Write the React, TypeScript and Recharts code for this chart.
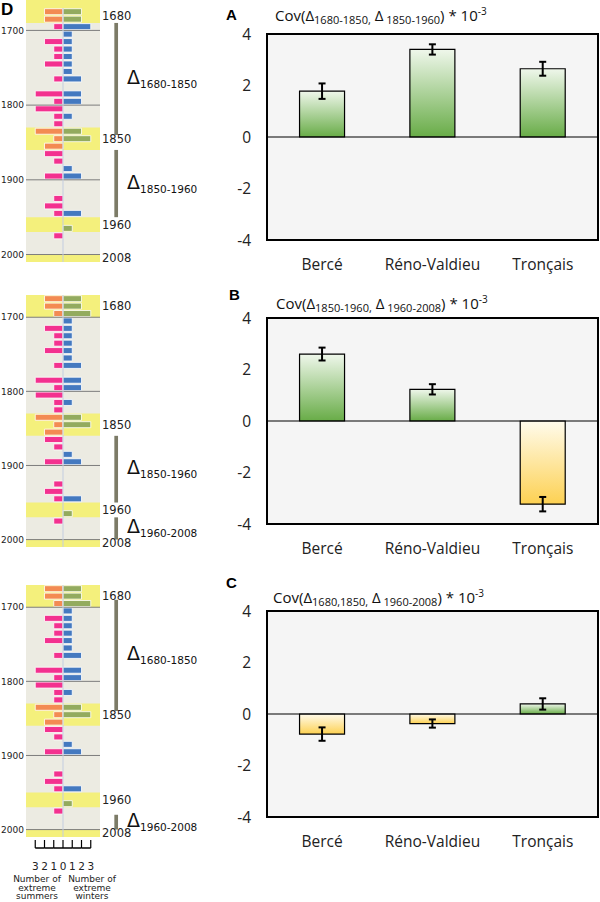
import React from "react";
import {
  BarChart,
  Bar,
  XAxis,
  YAxis,
  Cell,
  CartesianGrid,
  ReferenceArea,
  ReferenceLine,
  ErrorBar,
} from "recharts";

// ---- panel D: extreme summers / winters per decade ----
const decades = [
  "1670", "1680", "1690", "1700", "1710", "1720", "1730", "1740", "1750", "1760",
  "1770", "1780", "1790", "1800", "1810", "1820", "1830", "1840", "1850", "1860",
  "1870", "1880", "1890", "1900", "1910", "1920", "1930", "1940", "1950", "1960",
  "1970", "1980", "1990", "2000",
];
const extremeSummers = [
  2, 2, 1, 0, 2, 1, 1, 2, 0, 1, 0, 3, 1, 3, 1, 1, 3, 1, 2, 2, 1, 0, 2, 0, 0, 1, 2, 1, 0, 0, 1, 0, 0, 0,
];
const extremeWinters = [
  2, 2, 3, 1, 1, 1, 1, 1, 1, 2, 0, 2, 2, 0, 1, 0, 2, 3, 0, 0, 0, 1, 2, 0, 0, 0, 0, 2, 0, 1, 0, 0, 0, 0,
];
const centuryLines = ["1700", "1800", "1900", "2000"];
const scaleTicks = [-3, -2, -1, 0, 1, 2, 3];

type Band = { from: string; to: string; label: string };
type Delta = { from: string; to: string; sub: string };

const bandsD1: Band[] = [
  { from: "1670", to: "1680", label: "1680" },
  { from: "1830", to: "1850", label: "1850" },
  { from: "1950", to: "1960", label: "1960" },
  { from: "2000", to: "2000", label: "2008" },
];
const bandsD23: Band[] = [
  { from: "1670", to: "1690", label: "1680" },
  { from: "1830", to: "1850", label: "1850" },
  { from: "1950", to: "1960", label: "1960" },
  { from: "2000", to: "2000", label: "2008" },
];
const deltasD1: Delta[] = [
  { from: "1690", to: "1830", sub: "1680-1850" },
  { from: "1860", to: "1940", sub: "1850-1960" },
];
const deltasD2: Delta[] = [
  { from: "1860", to: "1940", sub: "1850-1960" },
  { from: "1970", to: "1990", sub: "1960-2008" },
];
const deltasD3: Delta[] = [
  { from: "1690", to: "1830", sub: "1680-1850" },
  { from: "1980", to: "1990", sub: "1960-2008" },
];

// ---- panels A, B, C: covariances ----
const sites = ["Bercé", "Réno-Valdieu", "Tronçais"];
const covA = [1.78, 3.4, 2.65];
const errA = [0.3, 0.2, 0.27];
const covB = [2.6, 1.23, -3.23];
const errB = [0.25, 0.2, 0.28];
const covC = [-0.78, -0.37, 0.39];
const errC = [0.26, 0.16, 0.22];
const covTicks = [-4, -2, 0, 2, 4];

const PINK = "#f3318f";
const ORANGE = "#f38b52";
const BLUE = "#4479c0";
const GREEN = "#93ab5e";
const YELLOW = "#f4f07c";
const D_UNIT = 74 / 8;
const dFont = "DejaVu Sans, sans-serif";
const cFont = "'Open Sans', sans-serif";

const inBand = (d: string, bands: Band[]) =>
  bands.some((b) => +d >= +b.from && +d <= +b.to);

function DeltaLabel(props: any) {
  const { viewBox, sub } = props;
  if (!viewBox) return null;
  const x = viewBox.x + viewBox.width + 9;
  const y = viewBox.y + viewBox.height / 2 + 5;
  return (
    <text x={x} y={y} fill="#111" fontFamily={dFont}>
      <tspan fontSize={19}>Δ</tspan>
      <tspan fontSize={10.5} dy={4}>
        {sub}
      </tspan>
    </text>
  );
}

function ScaleTick(props: any) {
  const { x, y, payload } = props;
  const axisY = y + 11;
  return (
    <g>
      <line x1={x} x2={x} y1={axisY - 8} y2={axisY} stroke="#000" strokeWidth={1.2} />
      {payload.value > -3 && (
        <line x1={x - D_UNIT} x2={x} y1={axisY} y2={axisY} stroke="#000" strokeWidth={1.5} />
      )}
      <text x={x} y={axisY + 22} textAnchor="middle" fontSize={10.5} fill="#222" fontFamily={dFont}>
        {Math.abs(payload.value)}
      </text>
    </g>
  );
}

function DPanel({
  height,
  bands,
  deltas,
  scale,
}: {
  height: number;
  bands: Band[];
  deltas: Delta[];
  scale?: boolean;
}) {
  const rows = decades.map((d, i) => ({
    decade: d,
    summers: -extremeSummers[i],
    winters: extremeWinters[i],
  }));
  return (
    <BarChart
      width={200}
      height={height}
      data={rows}
      layout="vertical"
      stackOffset="sign"
      barCategoryGap={0.7}
      margin={{ top: 8, right: 100, bottom: scale ? 0 : 8, left: 26 }}
    >
      <CartesianGrid fill="#ecebe2" horizontal={false} vertical={false} />
      <XAxis
        type="number"
        domain={[-4, 4]}
        ticks={scaleTicks}
        hide={!scale}
        height={60}
        axisLine={false}
        tickLine={false}
        tickSize={0}
        tickMargin={0}
        interval={0}
        tick={<ScaleTick />}
      />
      <YAxis type="category" dataKey="decade" hide />
      {bands.map((b) => (
        <ReferenceArea
          key={b.label}
          y1={b.from}
          y2={b.to}
          fill={YELLOW}
          fillOpacity={1}
          stroke="none"
          label={{
            value: b.label,
            position: "right",
            offset: 2,
            fontSize: 11.5,
            fill: "#222",
            fontFamily: dFont,
          }}
        />
      ))}
      {centuryLines.map((c) => (
        <ReferenceLine
          key={c}
          y={c}
          position="start"
          stroke="#7d7d7d"
          label={{ value: c, position: "left", offset: 2, fontSize: 9, fill: "#222", fontFamily: dFont }}
        />
      ))}
      <ReferenceLine x={0} stroke="#c3cde0" />
      {deltas.map((d) => (
        <ReferenceArea
          key={d.sub}
          x1={5.55}
          x2={5.95}
          y1={d.from}
          y2={d.to}
          ifOverflow="visible"
          fill="#7c7b67"
          fillOpacity={1}
          stroke="none"
          label={<DeltaLabel sub={d.sub} />}
        />
      ))}
      <Bar dataKey="summers" stackId="n" stroke="#fff" strokeWidth={0.8} isAnimationActive={false}>
        {rows.map((r) => (
          <Cell key={r.decade} fill={inBand(r.decade, bands) ? ORANGE : PINK} />
        ))}
      </Bar>
      <Bar dataKey="winters" stackId="n" stroke="#fff" strokeWidth={0.8} isAnimationActive={false}>
        {rows.map((r) => (
          <Cell key={r.decade} fill={inBand(r.decade, bands) ? GREEN : BLUE} />
        ))}
      </Bar>
    </BarChart>
  );
}

function CovPanel({ values, errors, id }: { values: number[]; errors: number[]; id: string }) {
  const rows = sites.map((s, i) => ({ site: s, cov: values[i], err: errors[i] }));
  const tickStyle = { fontSize: 15.5, fill: "#222", fontFamily: cFont };
  return (
    <BarChart
      width={400}
      height={282}
      data={rows}
      margin={{ top: 34, right: 2, bottom: 0, left: 17 }}
      barCategoryGap="29.5%"
    >
      <defs>
        <linearGradient id={`${id}-pos`} x1="0" y1="0" x2="0" y2="1">
          <stop offset="0%" stopColor="#eff7eb" />
          <stop offset="100%" stopColor="#68ac47" />
        </linearGradient>
        <linearGradient id={`${id}-neg`} x1="0" y1="0" x2="0" y2="1">
          <stop offset="0%" stopColor="#fffbec" />
          <stop offset="100%" stopColor="#fdd152" />
        </linearGradient>
      </defs>
      <XAxis
        dataKey="site"
        axisLine={false}
        tickLine={false}
        tickSize={0}
        tickMargin={19}
        height={42}
        interval={0}
        tick={tickStyle}
      />
      <YAxis
        type="number"
        domain={[-4, 4]}
        ticks={covTicks}
        axisLine={false}
        tickLine={false}
        tickSize={0}
        tickMargin={16}
        width={50}
        tick={tickStyle}
      />
      <ReferenceArea
        y1={-4}
        y2={4}
        fill="#f5f5f5"
        fillOpacity={1}
        stroke="#000"
        strokeOpacity={1}
        strokeWidth={2}
        ifOverflow="visible"
      />
      <ReferenceLine y={0} stroke="#000" strokeWidth={1.2} />
      <Bar dataKey="cov" stroke="#000" strokeWidth={1.2} isAnimationActive={false}>
        {rows.map((r) => (
          <Cell key={r.site} fill={r.cov >= 0 ? `url(#${id}-pos)` : `url(#${id}-neg)`} />
        ))}
        <ErrorBar dataKey="err" width={3.5} strokeWidth={2} stroke="#000" direction="y" isAnimationActive={false} />
      </Bar>
    </BarChart>
  );
}

const subStyle: React.CSSProperties = { fontSize: 11, position: "relative", top: 3 };
const supStyle: React.CSSProperties = { fontSize: 10, position: "relative", top: -6 };

function CovTitle({ top, left, a, b }: { top: number; left: number; a: string; b: string }) {
  return (
    <div
      style={{
        position: "absolute",
        top,
        left,
        fontFamily: cFont,
        fontSize: 15,
        lineHeight: "18px",
        whiteSpace: "nowrap",
        color: "#111",
      }}
    >
      Cov(Δ<span style={subStyle}>{a}</span> Δ<span style={subStyle}>{b}</span>) * 10
      <span style={supStyle}>-3</span>
    </div>
  );
}

const letterStyle: React.CSSProperties = {
  position: "absolute",
  fontFamily: "'Liberation Sans', Arial, sans-serif",
  fontWeight: "bold",
  fontSize: 15,
  lineHeight: "16px",
  color: "#000",
};

const footStyle: React.CSSProperties = {
  position: "absolute",
  top: 875,
  fontFamily: dFont,
  fontSize: 9,
  lineHeight: "8.7px",
  textAlign: "center",
  color: "#222",
};

export default function App() {
  return (
    <div
      style={{
        position: "absolute",
        left: 0,
        top: 0,
        width: 600,
        height: 902,
        overflow: "hidden",
        background: "#fff",
      }}
    >
      <div style={{ position: "absolute", left: 26, top: 0, width: 74, height: 9, background: YELLOW }} />
      <div style={{ position: "absolute", left: 0, top: 0 }}>
        <DPanel height={270} bands={bandsD1} deltas={deltasD1} />
      </div>
      <div style={{ position: "absolute", left: 0, top: 287 }}>
        <DPanel height={268} bands={bandsD23} deltas={deltasD2} />
      </div>
      <div style={{ position: "absolute", left: 0, top: 577 }}>
        <DPanel height={320} bands={bandsD23} deltas={deltasD3} scale />
      </div>
      <div style={{ ...letterStyle, left: 1, top: 2, fontSize: 17 }}>D</div>
      <div style={{ ...footStyle, left: 0, width: 74 }}>
        Number of
        <br />
        extreme
        <br />
        summers
      </div>
      <div style={{ ...footStyle, left: 60, width: 64 }}>
        Number of
        <br />
        extreme
        <br />
        winters
      </div>

      <div style={{ position: "absolute", left: 200, top: 0 }}>
        <CovPanel values={covA} errors={errA} id="ca" />
      </div>
      <div style={{ position: "absolute", left: 200, top: 284 }}>
        <CovPanel values={covB} errors={errB} id="cb" />
      </div>
      <div style={{ position: "absolute", left: 200, top: 577 }}>
        <CovPanel values={covC} errors={errC} id="cc" />
      </div>
      <div style={{ ...letterStyle, left: 226, top: 7 }}>A</div>
      <div style={{ ...letterStyle, left: 229, top: 287 }}>B</div>
      <div style={{ ...letterStyle, left: 226, top: 575 }}>C</div>
      <CovTitle top={6} left={275} a="1680-1850," b=" 1850-1960" />
      <CovTitle top={294} left={276} a="1850-1960," b=" 1960-2008" />
      <CovTitle top={588} left={273} a="1680,1850," b=" 1960-2008" />
    </div>
  );
}
